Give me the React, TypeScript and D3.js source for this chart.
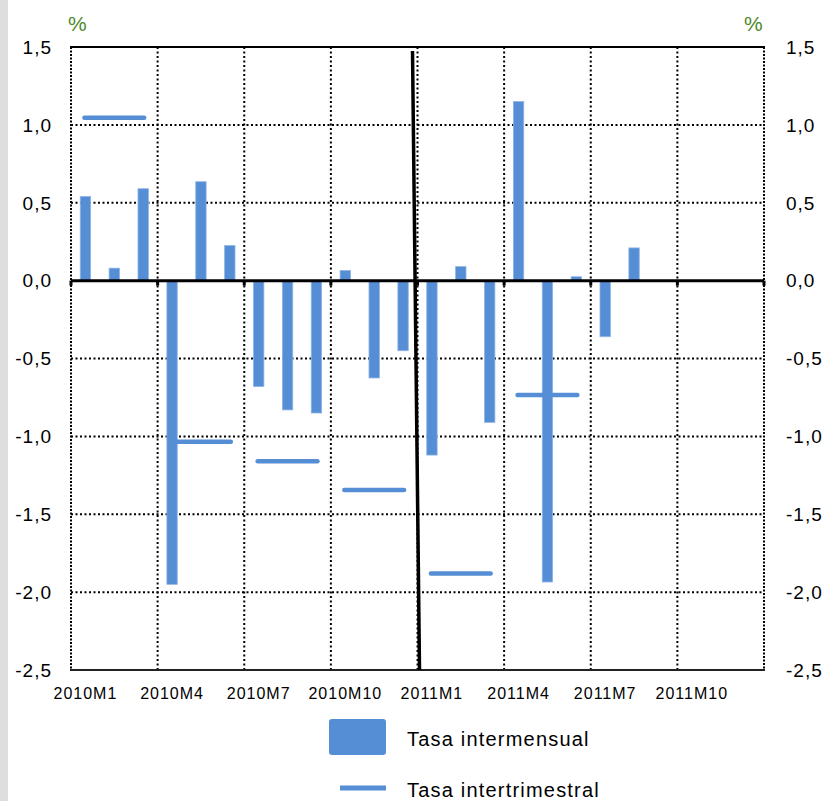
import React from "react";
import * as d3 from "d3";

const months: string[] = [
  "2010M1","2010M2","2010M3","2010M4","2010M5","2010M6","2010M7","2010M8","2010M9","2010M10","2010M11","2010M12",
  "2011M1","2011M2","2011M3","2011M4","2011M5","2011M6","2011M7","2011M8","2011M9","2011M10","2011M11","2011M12",
];
const monthlyRate: (number | null)[] = [
  0.54, 0.08, 0.59, -1.95, 0.635, 0.225, -0.68, -0.83, -0.85, 0.065, -0.625, -0.45,
  -1.12, 0.09, -0.91, 1.15, -1.935, 0.025, -0.36, 0.21, null, null, null, null,
];
const quarterStart: string[] = ["2010M1","2010M4","2010M7","2010M10","2011M1","2011M4"];
const quarterEnd: string[] = ["2010M3","2010M6","2010M9","2010M12","2011M3","2011M6"];
const quarterlyRate: number[] = [1.045, -1.035, -1.16, -1.345, -1.88, -0.735];
const yTicks: number[] = [1.5, 1.0, 0.5, 0.0, -0.5, -1.0, -1.5, -2.0, -2.5];
const xTickLabels: string[] = ["2010M1","2010M4","2010M7","2010M10","2011M1","2011M4","2011M7","2011M10"];
const seriesNames: string[] = ["Tasa intermensual", "Tasa intertrimestral"];

const W = 825, H = 801;
const L = 71, R = 764, T = 47, B = 670;
const BLUE = "#558ed5";
const FONT = "Liberation Sans, Arial, sans-serif";

export default function App() {
  const x = d3.scaleBand<string>().domain(months).range([L, R]).paddingInner(0).paddingOuter(0);
  const y = d3.scaleLinear().domain([-2.5, 1.5]).range([B, T]);
  const bw = x.bandwidth() * 0.36;
  const cx = (m: string) => (x(m) as number) + x.bandwidth() / 2;
  const fmt = (v: number) => d3.format(".1f")(v).replace(".", ",").replace("−", "-");
  const gridXs = months.filter((_, i) => i % 3 === 0 && i > 0).map((m) => x(m) as number);
  const tickXs = [L, ...gridXs, R];
  const y0 = y(0);
  const sepX = x("2011M1") as number;

  return (
    <svg width={W} height={H} style={{ position: "absolute", left: 0, top: 0, background: "#fff" }} fontFamily={FONT}>
      <rect x={0} y={0} width={8} height={H} fill="#dedede" />
      {/* horizontal gridlines */}
      {yTicks.filter((v) => v !== 1.5 && v !== -2.5 && v !== 0).map((v) => (
        <line key={"hg" + v} x1={L} x2={R} y1={y(v)} y2={y(v)} stroke="#000" strokeWidth={2} strokeDasharray="2,2.5" />
      ))}
      {/* vertical gridlines */}
      {gridXs.map((gx, i) => (
        <line key={"vg" + i} x1={gx} x2={gx} y1={T} y2={B} stroke="#000" strokeWidth={2} strokeDasharray="2,2.5" />
      ))}
      {/* borders */}
      <line x1={L} x2={L} y1={T} y2={B} stroke="#000" strokeWidth={2} strokeDasharray="2,1.5" />
      <line x1={R} x2={R} y1={T} y2={B} stroke="#000" strokeWidth={2} strokeDasharray="2,1.5" />
      <line x1={L - 1} x2={R + 1} y1={T} y2={T} stroke="#000" strokeWidth={2} />
      <line x1={L - 1} x2={R + 1} y1={B} y2={B} stroke="#222" strokeWidth={2} />
      {/* bars */}
      {months.map((m, i) => {
        const v = monthlyRate[i];
        if (v === null) return null;
        const yt = Math.min(y(v), y0);
        const h = Math.abs(y(v) - y0);
        return <rect key={"b" + m} x={cx(m) - bw / 2} y={yt} width={bw} height={h} fill={BLUE} stroke="#8fb4e6" strokeWidth={0.8} />;
      })}
      {/* zero axis */}
      <line x1={L} x2={R} y1={y0} y2={y0} stroke="#000" strokeWidth={3} />
      {tickXs.map((tx, i) => (
        <rect key={"tk" + i} x={tx - 1.5} y={y0} width={3} height={5} fill="#000" />
      ))}
      {/* quarterly lines */}
      {quarterlyRate.map((v, i) => (
        <line key={"q" + i} x1={cx(quarterStart[i]) - 1} x2={cx(quarterEnd[i]) + 1} y1={y(v)} y2={y(v)}
          stroke={BLUE} strokeWidth={4.5} strokeLinecap="round" />
      ))}
      {/* year separator */}
      <line x1={sepX - 5} x2={sepX + 2} y1={T + 4} y2={B} stroke="#000" strokeWidth={3.5} />
      {/* y labels */}
      {yTicks.map((v) => (
        <g key={"yl" + v}>
          <text x={52} y={y(v)} dy="0.36em" textAnchor="end" fontSize={19} letterSpacing={1} fill="#000">{fmt(v)}</text>
          <text x={786} y={y(v)} dy="0.36em" textAnchor="start" fontSize={19} letterSpacing={1} fill="#000">{fmt(v)}</text>
        </g>
      ))}
      <text x={68} y={31} fontSize={21} fill="#4e8a2a">%</text>
      <text x={744} y={31} fontSize={21} fill="#4e8a2a">%</text>
      {/* x labels */}
      {xTickLabels.map((m) => (
        <text key={"xl" + m} x={cx(m)} y={699} textAnchor="middle" fontSize={16} letterSpacing={1} fill="#000">{m}</text>
      ))}
      {/* legend */}
      <rect x={329} y={719} width={57} height={36} rx={3} fill={BLUE} />
      <text x={407} y={746} fontSize={20} letterSpacing={1.2} fill="#000">{seriesNames[0]}</text>
      <line x1={340} x2={386} y1={788} y2={788} stroke={BLUE} strokeWidth={5} />
      <text x={407} y={797} fontSize={20} letterSpacing={1.2} fill="#000">{seriesNames[1]}</text>
    </svg>
  );
}
